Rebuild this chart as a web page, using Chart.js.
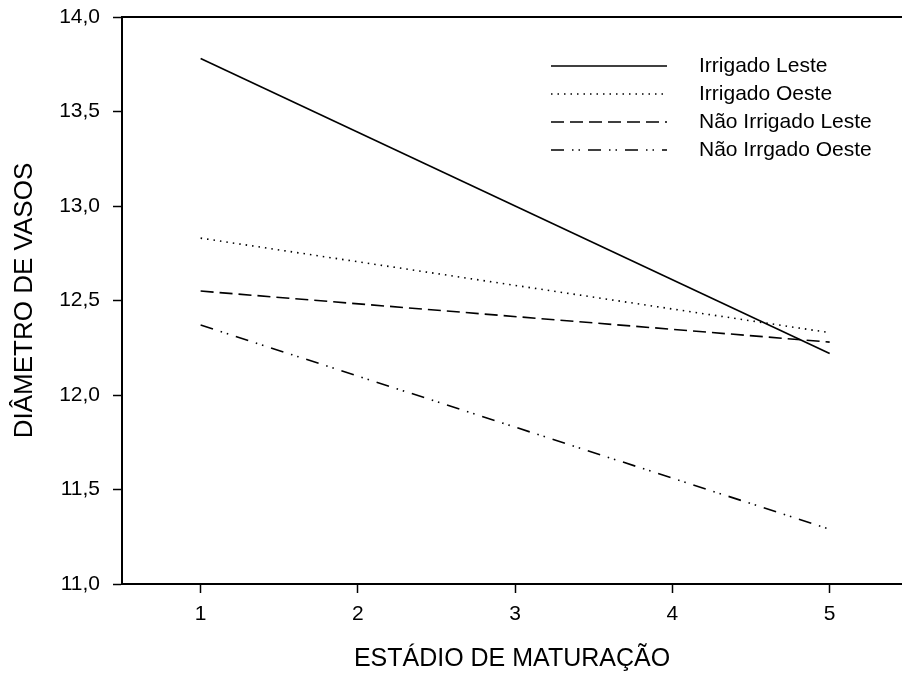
<!DOCTYPE html>
<html>
<head>
<meta charset="utf-8">
<script src="https://cdn.jsdelivr.net/npm/chart.js@4"></script>
<style>
  body { margin: 0; background: #fff; }
</style>
</head>
<body>
<canvas id="grafico" width="902" height="674"></canvas>
<script>
// datos (rectas por estadio)
const estadios = [1, 5]
const irrigadoLeste = [13.78, 12.22]
const irrigadoOeste = [12.83, 12.33]
const naoIrrigadoLeste = [12.55, 12.28]
const naoIrrgadoOeste = [12.37, 11.29]
const xTicks = [1, 2, 3, 4, 5]

const fuente = "'Liberation Sans', Arial, sans-serif"

const puntos = (serie) => serie.map((v, i) => ({ x: estadios[i], y: v }))

const series = [
    { label: 'Irrigado Leste', data: puntos(irrigadoLeste), borderDash: [] },
    { label: 'Irrigado Oeste', data: puntos(irrigadoOeste), borderDash: [1.5, 5] },
    { label: 'Não Irrigado Leste', data: puntos(naoIrrigadoLeste), borderDash: [13, 6] },
    { label: 'Não Irrgado Oeste', data: puntos(naoIrrgadoOeste), borderDash: [13, 8, 1.5, 5, 1.5, 8] }
]

// leyenda dentro del area y linea de arriba
const extras = {
    id: 'extras',
    afterDraw(chart) {
        const ctx = chart.ctx
        const area = chart.chartArea
        ctx.save()
        ctx.strokeStyle = '#000'
        ctx.lineWidth = 2
        ctx.beginPath()
        ctx.moveTo(area.left, area.top)
        ctx.lineTo(area.right, area.top)
        ctx.stroke()

        ctx.font = '21px ' + fuente
        ctx.fillStyle = '#000'
        ctx.textBaseline = 'middle'
        chart.data.datasets.forEach((ds, i) => {
            const y = area.top + 49 + i * 28
            const x0 = area.left + 429
            ctx.lineWidth = 1.6
            ctx.setLineDash(ds.borderDash)
            ctx.beginPath()
            ctx.moveTo(x0, y)
            ctx.lineTo(x0 + 116, y)
            ctx.stroke()
            ctx.setLineDash([])
            ctx.fillText(ds.label, x0 + 148, y)
        })
        ctx.restore()
    }
}

// sin relleno extra de las etiquetas
const sinRelleno = (s) => {
    s.paddingTop = 0
    s.paddingBottom = 0
    s.paddingLeft = 0
    s.paddingRight = 0
}

new Chart(document.getElementById('grafico'), {
    type: 'line',
    data: {
        datasets: series.map(s => ({
            label: s.label,
            data: s.data,
            borderColor: '#000',
            borderWidth: 1.6,
            borderDash: s.borderDash,
            pointRadius: 0,
            fill: false,
            tension: 0
        }))
    },
    options: {
        responsive: false,
        animation: false,
        devicePixelRatio: 1,
        layout: { padding: { top: 17, right: 0, left: 0, bottom: 0 } },
        plugins: {
            legend: { display: false },
            tooltip: { enabled: false }
        },
        scales: {
            x: {
                type: 'linear',
                min: 0.5,
                max: 5.46,
                afterBuildTicks: (s) => { s.ticks = xTicks.map(v => ({ value: v })) },
                afterFit: (s) => { s.height = 90; sinRelleno(s) },
                grid: { drawOnChartArea: false, tickLength: 9, tickWidth: 1.5, color: '#000' },
                border: { color: '#000', width: 2 },
                ticks: { color: '#000', padding: 9, font: { family: fuente, size: 21 } },
                title: {
                    display: true,
                    text: 'ESTÁDIO DE MATURAÇÃO',
                    color: '#000',
                    font: { family: fuente, size: 25, lineHeight: 1 },
                    padding: { top: 0, bottom: 2 }
                }
            },
            y: {
                min: 11,
                max: 14,
                afterFit: (s) => { s.width = 122; sinRelleno(s) },
                grid: { drawOnChartArea: false, tickLength: 9, tickWidth: 1.5, color: '#000' },
                border: { color: '#000', width: 2 },
                ticks: {
                    stepSize: 0.5,
                    color: '#000',
                    padding: 13,
                    font: { family: fuente, size: 21 },
                    callback: (v) => v.toFixed(1).replace('.', ',')
                },
                title: {
                    display: true,
                    text: 'DIÂMETRO DE VASOS',
                    color: '#000',
                    font: { family: fuente, size: 26, lineHeight: 1 },
                    padding: { top: 12, bottom: 0 }
                }
            }
        }
    },
    plugins: [extras]
})
</script>
</body>
</html>
